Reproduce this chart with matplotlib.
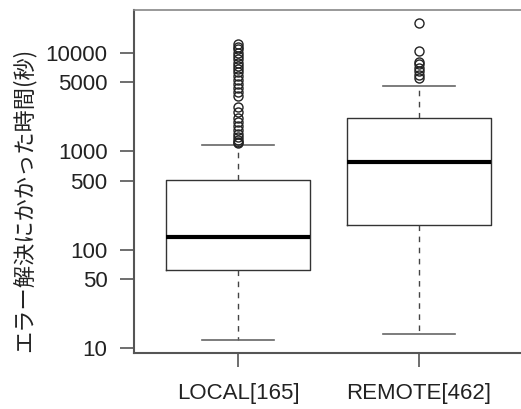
import matplotlib
matplotlib.use("Agg")
import matplotlib.pyplot as plt

plt.rcParams['font.family'] = ['Liberation Sans', 'Noto Sans CJK JP', 'DejaVu Sans']

categories = ["LOCAL[165]", "REMOTE[462]"]
whislo = [12, 14]
q1 = [62, 177]
med = [136, 783]
q3 = [508, 2190]
whishi = [1160, 4630]
fliers_local = [12200, 11500, 10800, 10000, 9300, 8600, 7900, 7300, 6800, 6300,
                5800, 5300, 4800, 4400, 4000, 3600, 2800, 2500, 2200, 2000,
                1800, 1650, 1500, 1400, 1300, 1250, 1200]
fliers_remote = [20200, 10400, 8100, 7600, 7000, 6500, 6000, 5500]
yticks = [10, 50, 100, 500, 1000, 5000, 10000]
ylabel = "エラー解決にかかった時間(秒)"

fig = plt.figure(figsize=(5.21, 4.09), dpi=100)
ax = fig.add_axes([134/521, 1 - 352.7/409, (523 - 134)/521, (352.7 - 10)/409])

stats = []
for i, fl in enumerate([fliers_local, fliers_remote]):
    stats.append(dict(whislo=whislo[i], q1=q1[i], med=med[i], q3=q3[i],
                      whishi=whishi[i], fliers=fl, label=categories[i]))

ax.bxp(stats, positions=[1, 2], widths=0.8, capwidths=0.4,
       boxprops=dict(color="#333333", linewidth=1.0),
       medianprops=dict(color="black", linewidth=3.0),
       whiskerprops=dict(color="#444444", linewidth=1.0, linestyle=(0, (4, 4))),
       capprops=dict(color="#666666", linewidth=1.2),
       flierprops=dict(marker="o", markersize=6.5, markerfacecolor="none",
                       markeredgecolor="#222222", markeredgewidth=1.0))

ax.set_yscale("log")
ax.set_ylim(9.02, 27140)
ax.set_xlim(0.42, 2.58)
ax.set_yticks(yticks)
ax.set_yticklabels([str(v) for v in yticks])
ax.yaxis.set_minor_locator(matplotlib.ticker.NullLocator())
ax.set_xticks([1, 2])
ax.set_xticklabels(categories)

for s in ax.spines.values():
    s.set_color("#888888")
    s.set_linewidth(1.2)
ax.spines['left'].set_color("#555555")
ax.spines['bottom'].set_color("#555555")
ax.spines['left'].set_linewidth(1.5)
ax.spines['bottom'].set_linewidth(1.5)

ax.tick_params(axis='both', length=10, width=1.2, color="#555555",
               labelsize=16, labelcolor="#222222")
ax.tick_params(axis='y', pad=9)
ax.tick_params(axis='x', pad=12)

fig.text(24/521, 1 - 200/409, ylabel, rotation=90, ha='center', va='center',
         fontsize=16, color="#222222", family=['Noto Sans CJK JP', 'DejaVu Sans'])

fig.savefig("out.png", dpi=100)
